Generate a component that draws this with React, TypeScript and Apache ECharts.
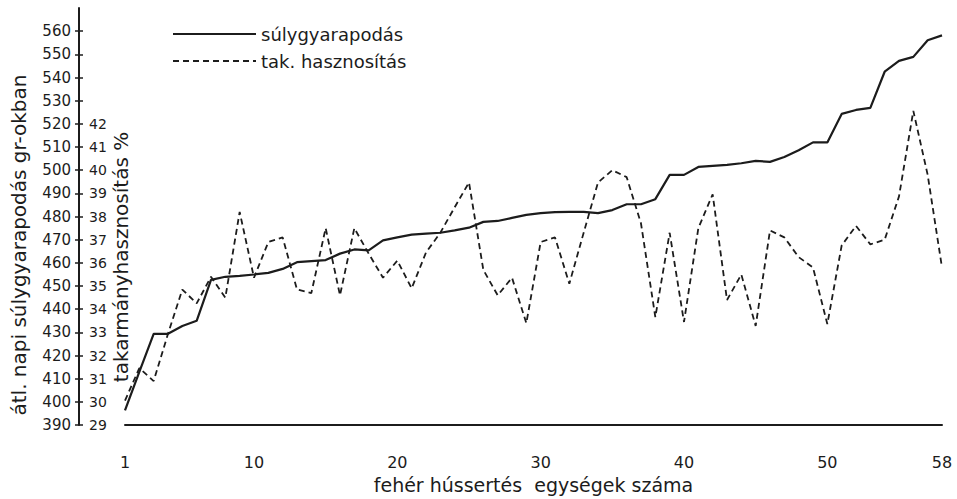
import React, { useEffect, useRef } from "react";
import * as echarts from "echarts";

const units = [
  "1", "2", "3", "4", "5", "6", "7", "8", "9", "10",
  "11", "12", "13", "14", "15", "16", "17", "18", "19", "20",
  "21", "22", "23", "24", "25", "26", "27", "28", "29", "30",
  "31", "32", "33", "34", "35", "36", "37", "38", "39", "40",
  "41", "42", "43", "44", "45", "46", "47", "48", "49", "50",
  "51", "52", "53", "54", "55", "56", "57", "58",
];

// átl. napi súlygyarapodás (gr)
const weightGain = [
  396.4, 413, 429.4, 429.4, 432.8, 435, 452.7, 454, 454.4, 455,
  455.7, 457.4, 460.3, 460.8, 461.2, 464, 465.8, 465.4, 469.7, 471,
  472.2, 472.6, 473, 474, 475.2, 477.7, 478.1, 479.4, 480.7, 481.5,
  481.9, 482, 482, 481.5, 482.8, 485.3, 485.3, 487.5, 498, 498,
  501.4, 501.9, 502.3, 503, 504, 503.6, 505.7, 508.6, 512, 512,
  524.3, 526, 526.9, 542.5, 547.2, 548.9, 556.1, 558.2,
];

// takarmányhasznosítás (%)
const feedUtil = [
  30.06, 31.46, 30.9, 32.94, 34.85, 34.25, 35.4, 34.5, 38.2, 35.36,
  36.9, 37.1, 34.85, 34.7, 37.5, 34.6, 37.5, 36.4, 35.36, 36.1,
  34.9, 36.45, 37.3, 38.4, 39.47, 35.7, 34.6, 35.36, 33.4, 36.9,
  37.1, 35.1, 37.3, 39.47, 40.0, 39.7, 37.7, 33.66, 37.3, 33.45,
  37.5, 38.96, 34.4, 35.5, 33.28, 37.4, 37.1, 36.25, 35.8, 33.36,
  36.75, 37.6, 36.8, 37.0, 38.87, 42.56, 39.8, 35.8,
];

const xTickLabels = ["1", "10", "20", "30", "40", "50", "58"];
const gainTicks = [
  390, 400, 410, 420, 430, 440, 450, 460, 470, 480,
  490, 500, 510, 520, 530, 540, 550, 560,
];
const utilTicks = [29, 30, 31, 32, 33, 34, 35, 36, 37, 38, 39, 40, 41, 42];

const seriesNames = ["súlygyarapodás", "tak. hasznosítás"];
const xTitle = "fehér hússertés  egységek száma";
const gainTitle = "átl. napi súlygyarapodás gr-okban";
const utilTitle = "takarmányhasznosítás %";

const INK = "#1c1c1c";
const FONT = "DejaVu Sans";

export default function App() {
  const ref = useRef<HTMLDivElement>(null);

  useEffect(() => {
    if (!ref.current) return;
    const chart = echarts.init(ref.current, undefined, { renderer: "svg" });
    chart.setOption({
      animation: false,
      backgroundColor: "#ffffff",
      textStyle: { fontFamily: FONT, color: INK },
      grid: { left: 125, right: 15, top: 8, bottom: 66 },
      legend: {
        left: 167,
        top: 20,
        orient: "vertical",
        itemWidth: 83,
        itemHeight: 18,
        itemGap: 9,
        itemStyle: { opacity: 0 },
        textStyle: { fontSize: 18, color: INK, fontFamily: FONT },
        data: seriesNames,
      },
      xAxis: {
        type: "category",
        data: units,
        boundaryGap: false,
        axisLine: { show: true, lineStyle: { color: INK, width: 2 } },
        axisTick: { show: false },
        axisLabel: {
          interval: (_i: number, v: string) => xTickLabels.includes(v),
          margin: 29,
          fontSize: 16,
          color: INK,
          fontFamily: FONT,
        },
        splitLine: { show: false },
        name: xTitle,
        nameLocation: "middle",
        nameGap: 49,
        nameTextStyle: { fontSize: 19, color: INK, fontFamily: FONT },
      },
      yAxis: [
        {
          type: "value",
          min: 390,
          max: 570,
          position: "left",
          offset: 46,
          axisLine: { show: true, lineStyle: { color: INK, width: 2 } },
          axisTick: { show: true, length: 4, customValues: gainTicks, lineStyle: { color: INK, width: 1.5 } },
          axisLabel: { customValues: gainTicks, margin: 8, fontSize: 15, color: INK, fontFamily: FONT },
          splitLine: { show: false },
        },
        {
          type: "value",
          min: 29,
          max: 47,
          position: "left",
          offset: 0,
          axisLine: { show: false },
          axisTick: { show: false },
          axisLabel: { customValues: utilTicks, align: "left", margin: 36, fontSize: 14, color: INK, fontFamily: FONT },
          splitLine: { show: false },
        },
        {
          type: "value",
          min: 390,
          max: 570,
          position: "left",
          offset: 46,
          axisLine: { show: false },
          axisTick: { show: true, inside: true, length: 4, customValues: gainTicks, lineStyle: { color: INK, width: 1.5 } },
          axisLabel: { show: false },
          splitLine: { show: false },
        },
      ],
      graphic: [
        {
          type: "text",
          x: 19,
          y: 245,
          rotation: Math.PI / 2,
          style: {
            text: gainTitle,
            font: `20px ${FONT}`,
            fill: INK,
            align: "center",
            verticalAlign: "middle",
          },
        },
        {
          type: "text",
          x: 121,
          y: 257,
          rotation: Math.PI / 2,
          style: {
            text: utilTitle,
            font: `20px ${FONT}`,
            fill: INK,
            align: "center",
            verticalAlign: "middle",
          },
        },
      ],
      series: [
        {
          name: seriesNames[0],
          type: "line",
          data: weightGain,
          yAxisIndex: 0,
          symbol: "none",
          lineStyle: { color: INK, width: 2.2, type: "solid" },
          itemStyle: { color: INK },
        },
        {
          name: seriesNames[1],
          type: "line",
          data: feedUtil,
          yAxisIndex: 1,
          symbol: "none",
          lineStyle: { color: INK, width: 1.8, type: [6, 4] },
          itemStyle: { color: INK },
        },
      ],
    });
    return () => chart.dispose();
  }, []);

  return (
    <div
      ref={ref}
      style={{ position: "fixed", left: 0, top: 0, width: 957, height: 499, background: "#fff" }}
    />
  );
}
